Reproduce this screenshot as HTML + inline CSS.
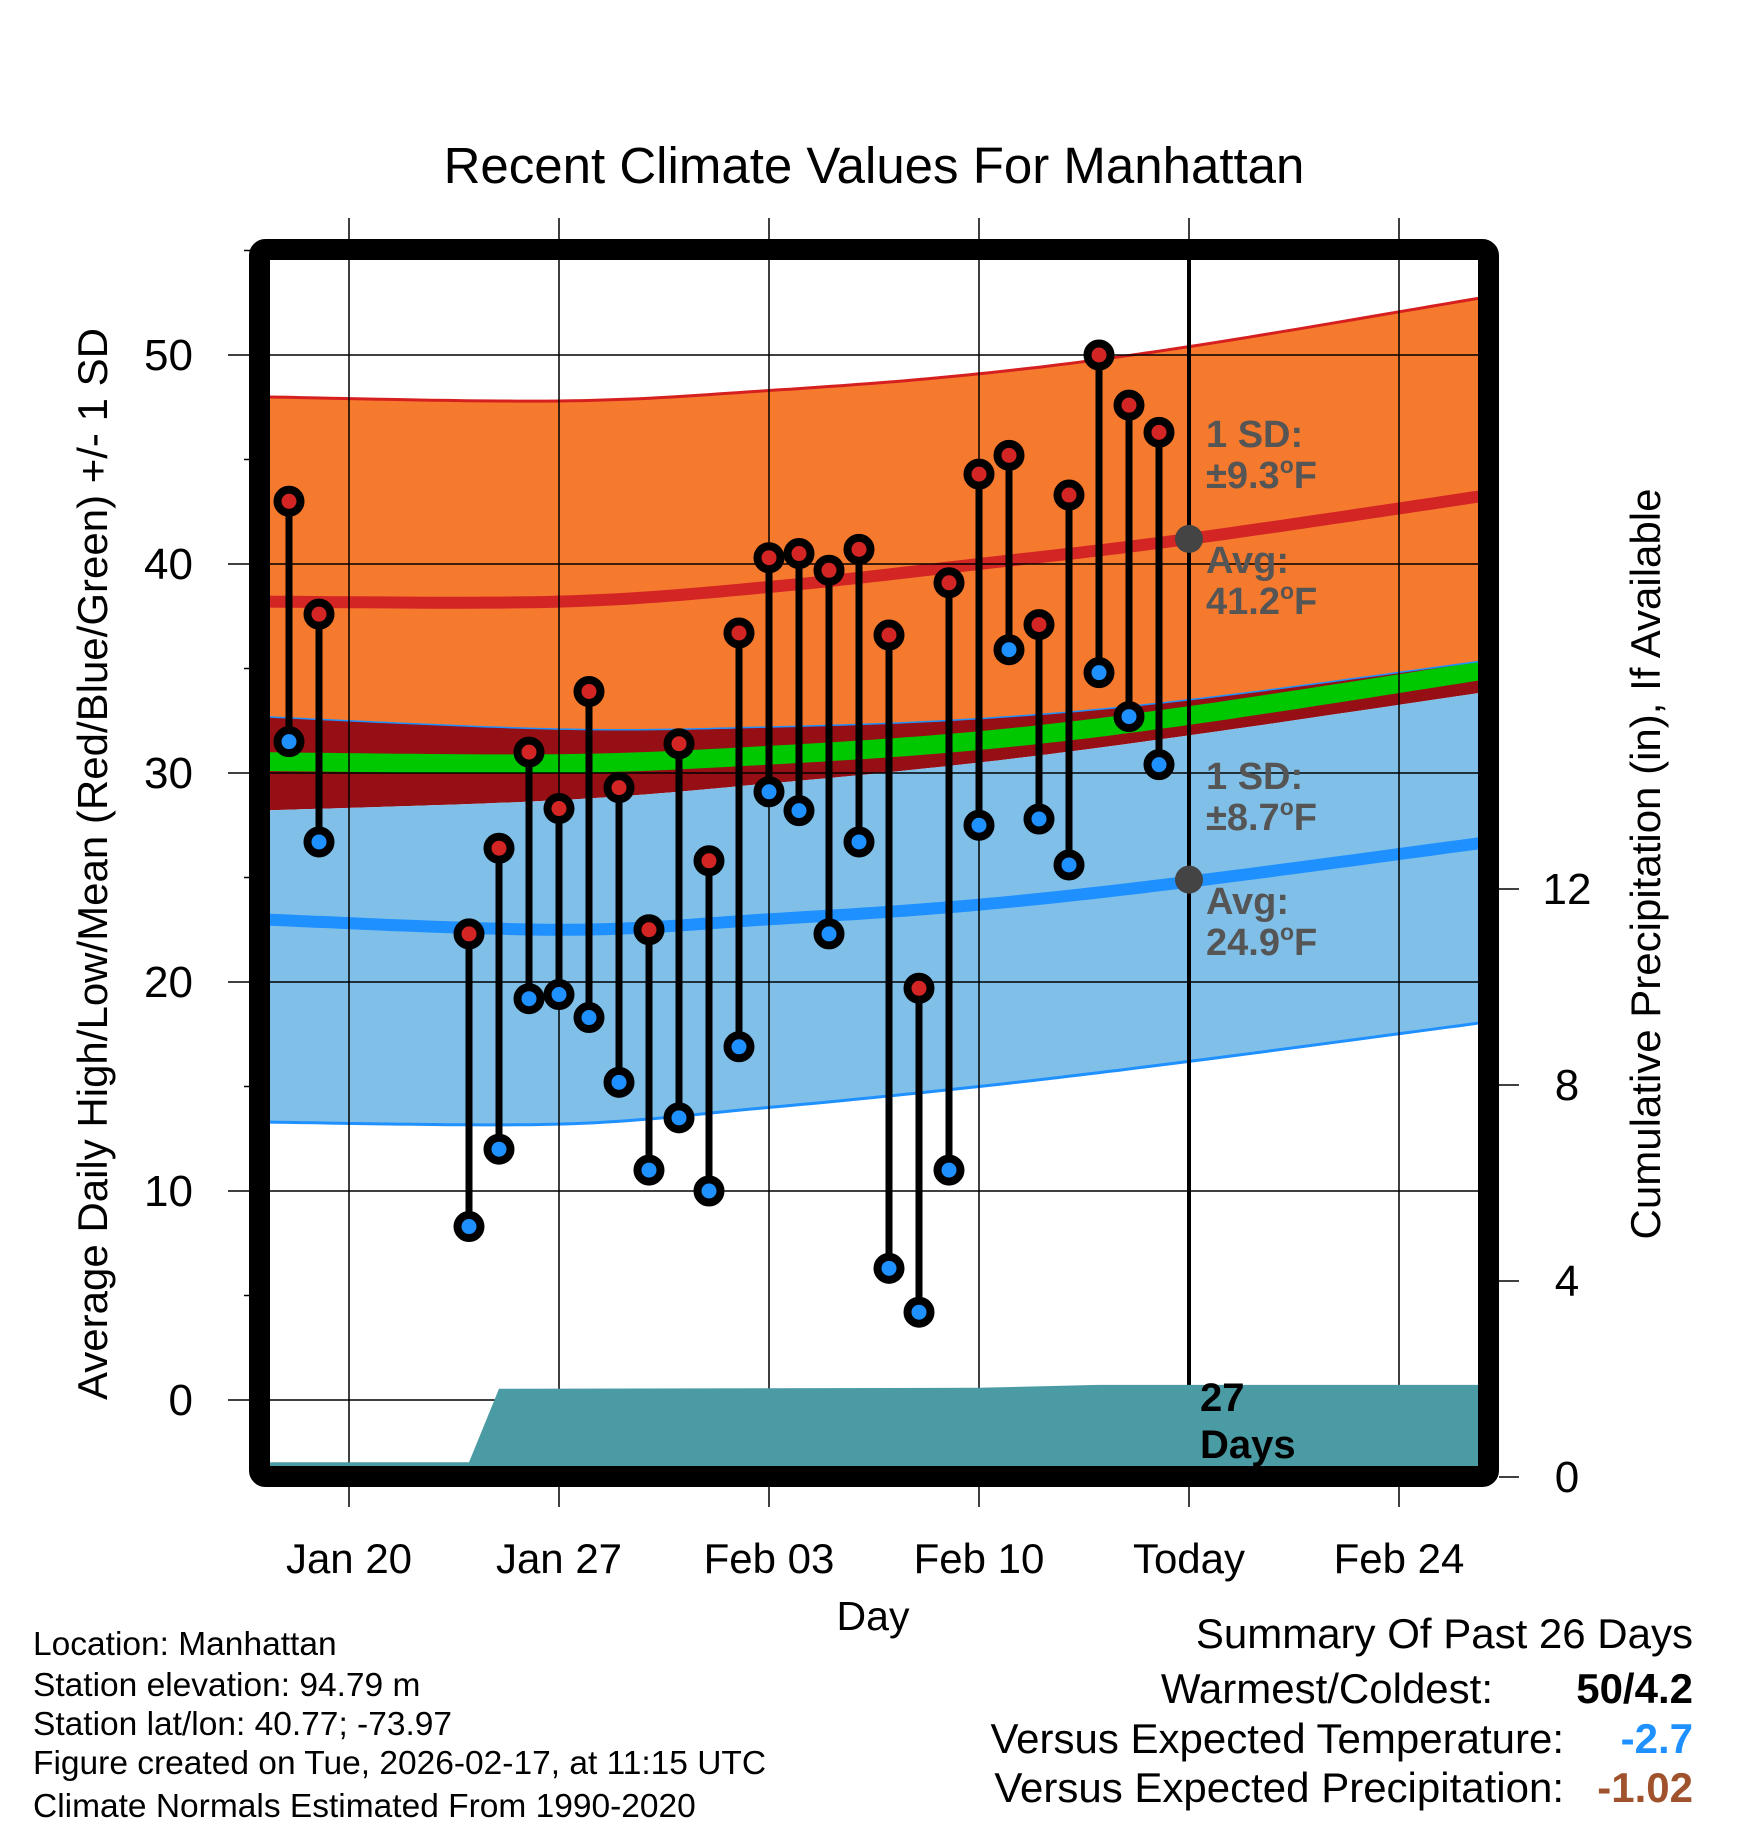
<!DOCTYPE html>
<html><head><meta charset="utf-8"><style>
html,body{margin:0;padding:0;background:#fff;}
svg{display:block;font-family:"Liberation Sans",Arial,sans-serif;}
</style></head><body>
<svg id="chart" width="1748" height="1828" viewBox="0 0 1748 1828" xmlns="http://www.w3.org/2000/svg">
<defs><clipPath id="plotclip"><rect x="270" y="260" width="1208" height="1206"/></clipPath></defs>
<text x="874" y="183" font-size="51" text-anchor="middle">Recent Climate Values For Manhattan</text>
<g id="bands" clip-path="url(#plotclip)"></g>
<g id="grid"></g>
<g id="precip" clip-path="url(#plotclip)"></g>
<g id="marks"></g>
<g id="axes"></g>
<g id="notes" font-weight="bold" font-size="38" fill="#555">
<text x="1206" y="447">1 SD:</text>
<text x="1206" y="488">±9.3<tspan font-size="23" dy="-15">o</tspan><tspan dy="15">F</tspan></text>
<text x="1206" y="573">Avg:</text>
<text x="1206" y="614">41.2<tspan font-size="23" dy="-15">o</tspan><tspan dy="15">F</tspan></text>
<text x="1206" y="789">1 SD:</text>
<text x="1206" y="830">±8.7<tspan font-size="23" dy="-15">o</tspan><tspan dy="15">F</tspan></text>
<text x="1206" y="914">Avg:</text>
<text x="1206" y="955">24.9<tspan font-size="23" dy="-15">o</tspan><tspan dy="15">F</tspan></text>
<text x="1200" y="1411" fill="#000" font-size="40">27</text>
<text x="1200" y="1458" fill="#000" font-size="40">Days</text>
</g>
<text transform="translate(107,864) rotate(-90)" font-size="42" text-anchor="middle">Average Daily High/Low/Mean (Red/Blue/Green) +/- 1 SD</text>
<text transform="translate(1660,864) rotate(-90)" font-size="42" text-anchor="middle">Cumulative Precipitation (in), If Available</text>
<text x="873" y="1630" font-size="41" text-anchor="middle">Day</text>
<g font-size="33.5">
<text x="33" y="1655">Location: Manhattan</text>
<text x="33" y="1696">Station elevation: 94.79 m</text>
<text x="33" y="1735">Station lat/lon: 40.77; -73.97</text>
<text x="33" y="1774">Figure created on Tue, 2026-02-17, at 11:15 UTC</text>
<text x="33" y="1817">Climate Normals Estimated From 1990-2020</text>
</g>
<g font-size="42">
<text x="1693" y="1648" text-anchor="end">Summary Of Past 26 Days</text>
<text x="1493" y="1703" text-anchor="end">Warmest/Coldest:</text>
<text x="1693" y="1703" text-anchor="end" font-weight="bold">50/4.2</text>
<text x="1564" y="1753" text-anchor="end">Versus Expected Temperature:</text>
<text x="1693" y="1753" text-anchor="end" font-weight="bold" fill="#1e90ff">-2.7</text>
<text x="1564" y="1802" text-anchor="end">Versus Expected Precipitation:</text>
<text x="1693" y="1802" text-anchor="end" font-weight="bold" fill="#a0522d">-1.02</text>
</g>
</svg>
<script>
// days relative to Jan 20 (0)
const obsDays = [-2,-1,4,5,6,7,8,9,10,11,12,13,14,15,16,17,18,19,20,21,22,23,24,25,26,27];
const highs = [43.0,37.6,22.3,26.4,31.0,28.3,33.9,29.3,22.5,31.4,25.8,36.7,40.3,40.5,39.7,40.7,36.6,19.7,39.1,44.3,45.2,37.1,43.3,50.0,47.6,46.3];
const lows = [31.5,26.7,8.3,12.0,19.2,19.4,18.3,15.2,11.0,13.5,10.0,16.9,29.1,28.2,22.3,26.7,6.3,4.2,11.0,27.5,35.9,27.8,25.6,34.8,32.7,30.4];
const normDays = [-3,7,14,21,28,38];
const hiUpper = [48.0,47.8,48.3,49.1,50.4,52.8];
const hiAvg = [38.2,38.2,38.9,40.0,41.2,43.3];
const hiLower = [32.7,32.1,32.2,32.6,33.5,35.4];
const meanTop = [31.0,30.9,31.3,32.0,33.2,35.4];
const meanBot = [30.1,30.0,30.4,31.1,32.3,34.5];
const loUpper = [28.2,28.7,29.5,30.5,31.8,33.9];
const loAvg = [23.0,22.5,23.0,23.7,24.8,26.7];
const loLower = [13.3,13.2,14.0,15.0,16.2,18.1];
const precipDays = [-3,-2.6,4,5,21,25,38];
const precipCum = [0.22,0.3,0.3,1.80,1.82,1.88,1.88];
const xTickDays = [0,7,14,21,28,35];
const xTickLabels = ["Jan 20","Jan 27","Feb 03","Feb 10","Today","Feb 24"];
const yTicks = [0,10,20,30,40,50];
const yMinor = [5,15,25,35,45,55];
const y2Ticks = [0,4,8,12];
const todayDay = 28;
const todayHiAvg = 41.2, todayLoAvg = 24.9;

const NS="http://www.w3.org/2000/svg";
const X = d => 349 + d*30;
const Y = v => 355 + (50-v)*20.9;
const Y2 = p => 1477 - p*49;
function mk(tag, parent, attrs){const e=document.createElementNS(NS,tag);for(const k in attrs)e.setAttribute(k,attrs[k]);parent.appendChild(e);return e;}
function curvePts(days, vals){
  const pts=[];
  const P=days.map((d,i)=>[X(d),Y(vals[i])]);
  for(let i=0;i<P.length-1;i++){
    const p0=P[Math.max(0,i-1)],p1=P[i],p2=P[i+1],p3=P[Math.min(P.length-1,i+2)];
    for(let t=0;t<1;t+=0.05){
      const t2=t*t,t3=t2*t;
      const f=(a,b,c,d)=>0.5*((2*b)+(-a+c)*t+(2*a-5*b+4*c-d)*t2+(-a+3*b-3*c+d)*t3);
      pts.push([f(p0[0],p1[0],p2[0],p3[0]),f(p0[1],p1[1],p2[1],p3[1])]);
    }
  }
  pts.push(P[P.length-1]);
  return pts;
}
const ptsStr = a => a.map(p=>p[0].toFixed(1)+','+p[1].toFixed(1)).join(' ');
function band(top,bot,fill,name){
  const a=curvePts(normDays,top), b=curvePts(normDays,bot).reverse();
  const e=mk('polygon',document.getElementById('bands'),{points:ptsStr(a.concat(b)),fill:fill});
  
  
}
function line(vals,color,w,name){
  const e=mk('polyline',document.getElementById('bands'),{points:ptsStr(curvePts(normDays,vals)),fill:'none',stroke:color,'stroke-width':w});
  
  
}
band(hiUpper,hiLower,'#f57a2d','high-sd-band');
band(hiLower,loUpper,'#960f14','overlap-band');
band(loUpper,loLower,'#80c0e8','low-sd-band');
band(meanTop,meanBot,'#00c800','mean-band');
line(hiUpper,'#d62020',3,'high-upper-line');
line(hiLower,'#1e90ff',1.5,'high-lower-line');
line(loLower,'#1e90ff',3,'low-lower-line');
line(hiAvg,'#d42525',12,'high-avg-line');
line(loAvg,'#1e90ff',12,'low-avg-line');

// grid
const g=document.getElementById('grid');
xTickDays.forEach(d=>{
  const e=mk('line',g,{x1:X(d),x2:X(d),y1:218,y2:1507,stroke:'#000','stroke-width':1.5});
  
  
});
yTicks.forEach(v=>{
  const e=mk('line',g,{x1:228,x2:1478,y1:Y(v),y2:Y(v),stroke:'#000','stroke-width':1.5});
  
  
});
yMinor.forEach(v=>{
  const e=mk('line',g,{x1:244,x2:260,y1:Y(v),y2:Y(v),stroke:'#000','stroke-width':1.5});
  
  
});

// precip
const pg=document.getElementById('precip');
const pp=precipDays.map((d,i)=>[X(d),Y2(precipCum[i])]);
pp.push([X(precipDays[precipDays.length-1]),Y2(0)]);pp.push([X(precipDays[0]),Y2(0)]);
const pe=mk('polygon',pg,{points:ptsStr(pp),fill:'#4a9ba3'});



// today line
const tl=mk('line',g,{x1:X(todayDay),x2:X(todayDay),y1:260,y2:1466,stroke:'#000','stroke-width':4});



// marks
const m=document.getElementById('marks');
obsDays.forEach((d,i)=>{
  const s=mk('line',m,{x1:X(d),x2:X(d),y1:Y(highs[i]),y2:Y(lows[i]),stroke:'#000','stroke-width':7});
  
  
});
obsDays.forEach((d,i)=>{
  const h=mk('circle',m,{cx:X(d),cy:Y(highs[i]),r:11.5,fill:'#d42525',stroke:'#000','stroke-width':8});
  
  
  const l=mk('circle',m,{cx:X(d),cy:Y(lows[i]),r:11.5,fill:'#1e90ff',stroke:'#000','stroke-width':8});
  
  
});
[todayHiAvg,todayLoAvg].forEach(v=>{
  const c=mk('circle',m,{cx:X(todayDay),cy:Y(v),r:14,fill:'#444'});
  
  
});

// axes frame and labels
const ax=document.getElementById('axes');
const fr=mk('rect',ax,{x:259.5,y:249.5,width:1229,height:1227,fill:'none',stroke:'#000','stroke-width':21,rx:6});


yTicks.forEach(v=>{
  const t=mk('text',ax,{x:193,y:Y(v)+15,'font-size':44,'text-anchor':'end'});
  t.textContent=String(v);
  
  
});
xTickDays.forEach((d,i)=>{
  const t=mk('text',ax,{x:X(d),y:1573,'font-size':42,'text-anchor':'middle'});
  t.textContent=xTickLabels[i];
  
  
});
y2Ticks.forEach(p=>{
  const k=mk('line',ax,{x1:1499,x2:1519,y1:Y2(p),y2:Y2(p),stroke:'#000','stroke-width':1.5});
  
  
  const t=mk('text',ax,{x:1567,y:Y2(p)+15,'font-size':44,'text-anchor':'middle'});
  t.textContent=String(p);
  
  
});
</script>
</body></html>
